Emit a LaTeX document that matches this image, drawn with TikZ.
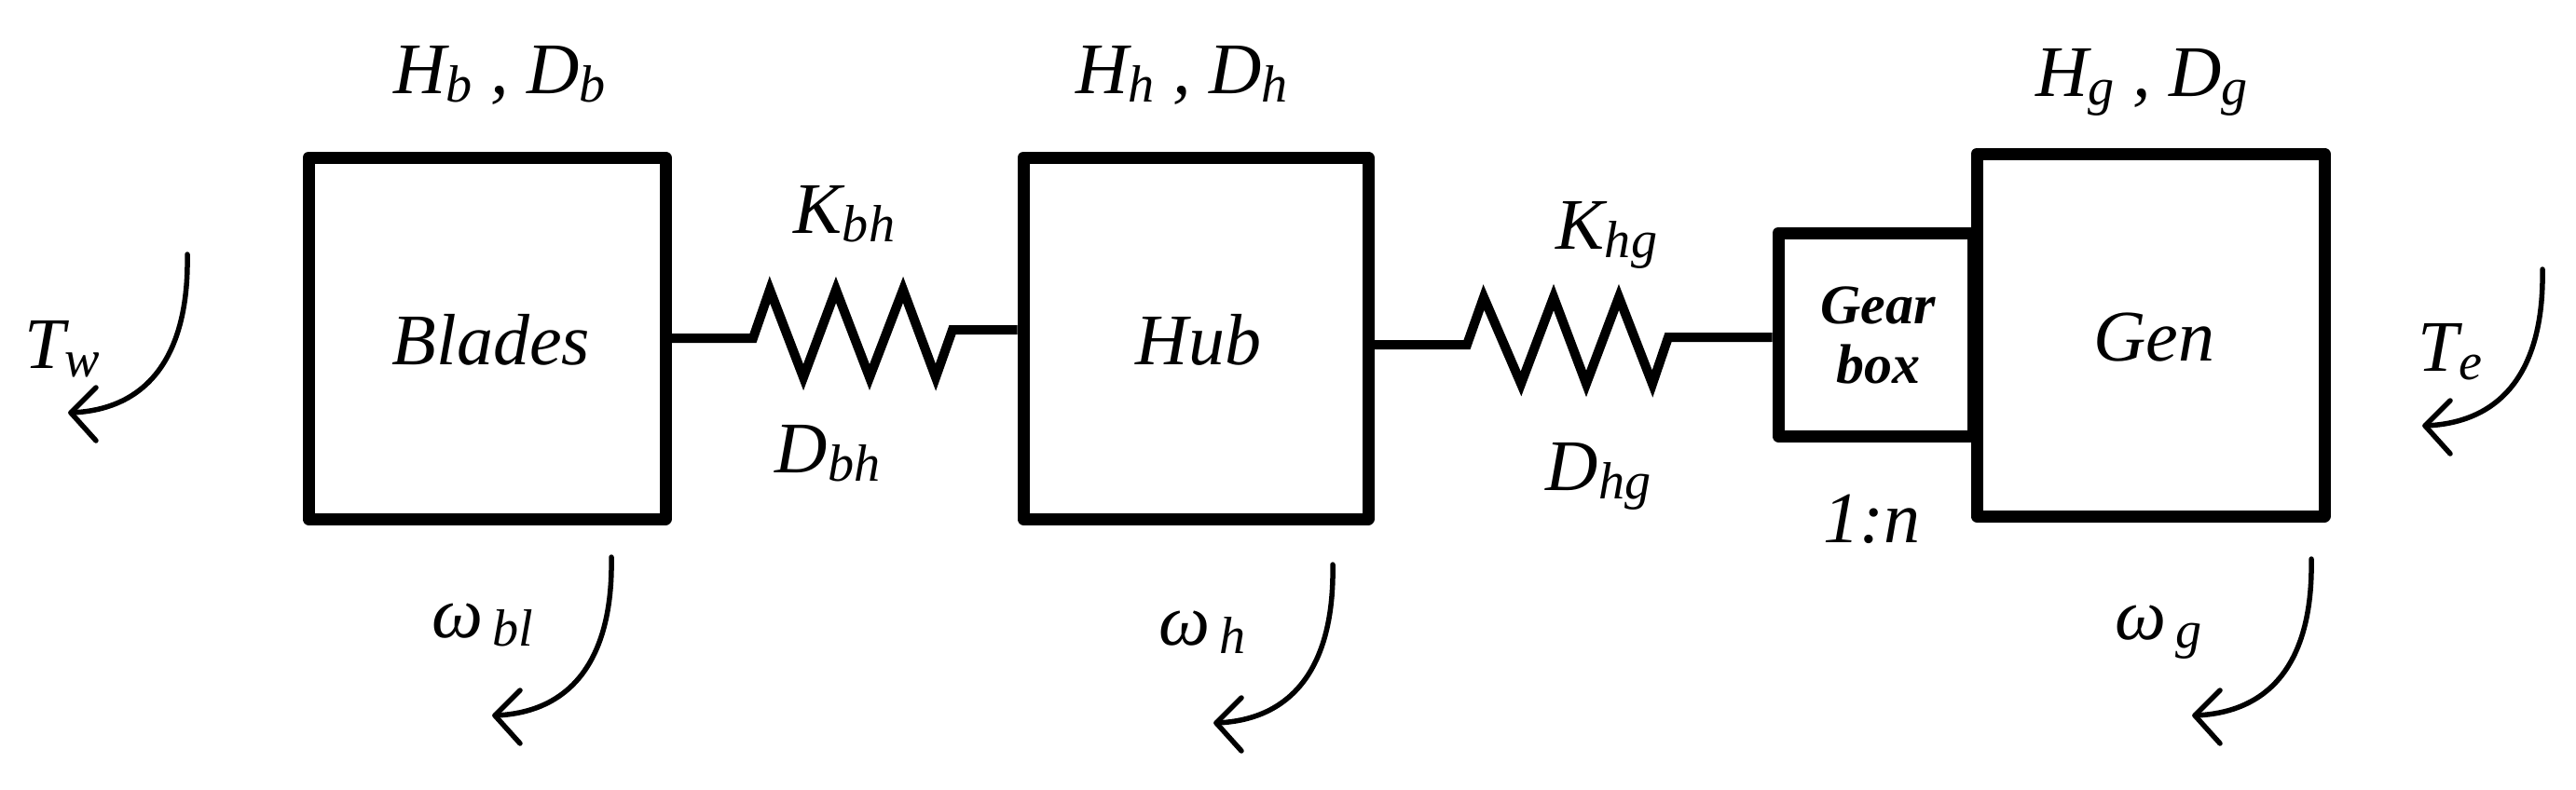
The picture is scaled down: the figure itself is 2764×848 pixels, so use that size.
\documentclass[tikz,border=0pt]{standalone}
\usepackage{fontspec}
\setmainfont{Liberation Serif}
\usetikzlibrary{calc}
\newcommand\lsub[1]{\raisebox{-0.25ex}{\scalebox{0.72}{#1}}}
\newcommand\rotarr[2]{%
  \draw[rot] (#1) .. controls ($(#1)+(2,107)$) and ($(#2)+(84,-3)$) .. (#2);
  \draw[rot] ($(#2)+(27,-27)$) -- (#2) -- ($(#2)+(27,30)$);}
\begin{document}
\begin{tikzpicture}[x=1pt,y=-1pt,
  box/.style={draw,line width=13pt,line join=round,inner sep=0pt},
  spring/.style={line width=10pt,line join=miter},
  rot/.style={line width=5.5pt,line cap=round,line join=round},
  lbl/.style={font=\fontsize{78}{90}\selectfont\itshape,inner sep=0pt}]
\useasboundingbox (0,0) rectangle (2764,848);
\node[box,minimum width=383pt,minimum height=388pt] (bl) at (522.5,363) {};
\node[box,minimum width=370pt,minimum height=388pt] (hub) at (1283,363) {};
\node[box,minimum width=209pt,minimum height=218pt] (gb) at (2012.5,359) {};
\node[box,minimum width=373pt,minimum height=389pt] (gen) at (2307.5,359.5) {};
\node[lbl] (tbl) at (527,365) {Blades};
\node[lbl] (thub) at (1286,365) {Hub};
\node[lbl] (tgen) at (2311,362) {Gen};
\node[lbl,font=\fontsize{60}{64}\selectfont\bfseries\itshape,align=center] (tgb) at (2015,360) {Gear\\box};
\node[lbl] (hb) at (536,81) {H\lsub{b} , D\lsub{b}};
\node[lbl] (hh) at (1268,81) {H\lsub{h} , D\lsub{h}};
\node[lbl] (hg) at (2298,88) {H\lsub{g} , D\lsub{g}};
\node[lbl] (kbh) at (906,230) {K\lsub{bh}};
\node[lbl] (dbh) at (888,487) {D\lsub{bh}};
\node[lbl] (khg) at (1724,252) {K\lsub{hg}};
\node[lbl] (dhg) at (1715,511) {D\lsub{hg}};
\node[lbl] (ratio) at (2008,557) {1:n};
\node[lbl] (tw) at (67,375) {T\lsub{w}};
\node[lbl] (te) at (2629,378) {T\lsub{e}};
\node[lbl] (wbl) at (518,671) {ω\lsub{\,bl}};
\node[lbl] (wh) at (1290,679) {ω\lsub{\,h}};
\node[lbl] (wg) at (2316,679) {ω\lsub{\,g}};
\draw[spring] (bl.east) -- (808,363) -- (826,311) -- (862,405) -- (897,311) -- (933,405) -- (969,311) -- (1004,405) -- (1022,354) -- (hub.west |- 0,354);
\draw[spring] (hub.east |- 0,370) -- (1574,370) -- (1592,319) -- (1632,412) -- (1667,319) -- (1702,412) -- (1737,319) -- (1773,412) -- (1790,362) -- (gb.west |- 0,362);
\coordinate (a1s) at (201,273); \coordinate (a1e) at (76,443);
\coordinate (a2s) at (656,598); \coordinate (a2e) at (531,768);
\coordinate (a3s) at (1430,606); \coordinate (a3e) at (1305,776);
\coordinate (a4s) at (2480,600); \coordinate (a4e) at (2355,768);
\coordinate (a5s) at (2728,289); \coordinate (a5e) at (2602,457);
\rotarr{a1s}{a1e}
\rotarr{a2s}{a2e}
\rotarr{a3s}{a3e}
\rotarr{a4s}{a4e}
\rotarr{a5s}{a5e}
\end{tikzpicture}
\end{document}
